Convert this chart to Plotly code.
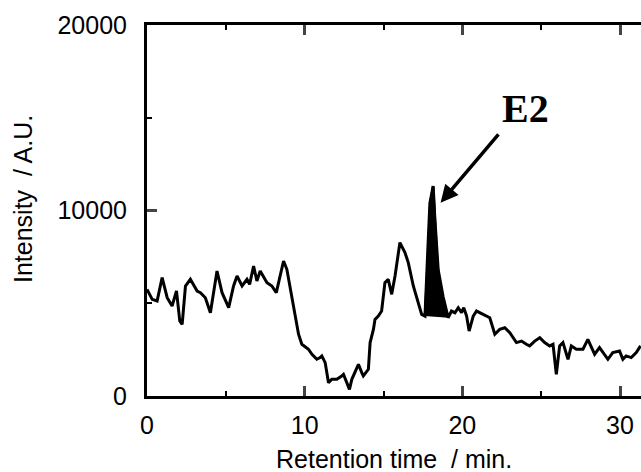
import plotly.graph_objects as go

# Retention time (min) and intensity (A.U.)
time_min = [0.0, 0.33, 0.64, 0.96, 1.28, 1.59, 1.87, 2.08, 2.23, 2.44, 2.75, 3.18, 3.39, 3.70,
            4.02, 4.44, 4.76, 5.18, 5.49, 5.71, 6.03, 6.34, 6.51, 6.76, 6.97, 7.18, 7.61, 7.92,
            8.20, 8.66, 8.87, 9.19, 9.40, 9.61, 9.82, 10.24, 10.46, 10.77, 10.98, 11.09, 11.30,
            11.51, 11.72, 12.04, 12.35, 12.46, 12.67, 12.84, 12.99, 13.20, 13.41, 13.62, 13.72,
            14.04, 14.15, 14.36, 14.46, 14.67, 14.88, 15.09, 15.30, 15.52, 15.73, 16.04, 16.36,
            16.57, 16.89, 17.20, 17.42, 17.63, 17.67, 17.80, 17.94, 18.15, 18.26, 18.47, 18.78,
            19.00, 19.10, 19.31, 19.53, 19.74, 19.95, 20.09, 20.27, 20.43, 20.69, 20.90, 21.32,
            21.74, 22.06, 22.37, 22.69, 23.01, 23.43, 23.75, 24.06, 24.27, 24.59, 24.91, 25.22,
            25.54, 25.75, 25.96, 26.17, 26.38, 26.70, 26.91, 27.23, 27.65, 27.96, 28.17, 28.39,
            28.70, 29.02, 29.23, 29.54, 29.97, 30.18, 30.39, 30.71, 31.03, 31.30]
intensity = [5750, 5210, 5120, 6380, 5300, 4850, 5660, 4040, 3860, 5930, 6290, 5660, 5570, 5300,
             4490, 6740, 5570, 4760, 5930, 6470, 5930, 6290, 6020, 7010, 6200, 6740, 6110, 5930,
             5570, 7280, 6830, 5390, 4490, 3330, 2790, 2520, 2250, 1980, 2070, 2160, 1800,
             720, 900, 900, 1080, 1170, 720, 360, 900, 1260, 1710, 1260, 1080,
             1440, 2880, 3590, 4130, 4310, 4580, 6110, 6290, 5480, 6470, 8270, 7730,
             7190, 5930, 5030, 4400, 4310, 5350, 7690, 10390, 11320, 9490, 6790, 5350,
             4540, 4220, 4580, 4490, 4760, 4490, 4760, 4310, 3500, 4310, 4580, 4400,
             4220, 3330, 3590, 3680, 3410, 2880, 2960, 2790, 2700, 2960, 3140, 2880,
             2700, 2790, 1170, 2700, 2880, 1980, 2700, 2520, 2520, 3050, 2610, 2250,
             2610, 2250, 1980, 2340, 2430, 1980, 2160, 2070, 2340, 2700]

# E2 peak (filled between the peak and its baseline)
peak_time = [17.60, 17.67, 17.80, 17.94, 18.10, 18.18, 18.28, 18.47, 18.78, 19.00, 19.10]
peak_intensity = [4310, 5350, 7690, 10390, 11250, 11250, 9490, 6790, 5350, 4540, 4220]

x_ticks = [0, 10, 20, 30]
x_tick_labels = ["0", "10", "20", "30"]
y_ticks = [0, 10000, 20000]
y_tick_labels = ["0", "10000", "20000"]

FONT = "Liberation Sans, Arial, Helvetica, sans-serif"

fig = go.Figure()
fig.add_trace(go.Scatter(x=peak_time, y=peak_intensity, mode="lines", fill="toself",
                         fillcolor="black", line=dict(color="black", width=1.5),
                         hoverinfo="skip", showlegend=False))
fig.add_trace(go.Scatter(x=time_min, y=intensity, mode="lines",
                         line=dict(color="black", width=3), showlegend=False))

fig.add_annotation(x=18.62, y=10420, ax=22.37, ay=14180, xref="x", yref="y", axref="x", ayref="y",
                   text="", showarrow=True, arrowhead=2, arrowsize=1.0, arrowwidth=3.5,
                   arrowcolor="black")
fig.add_annotation(x=24.0, y=15500, xref="x", yref="y", text="<b>E2</b>", showarrow=False,
                   font=dict(family="Liberation Serif, Times New Roman, serif", size=40,
                             color="black"))

fig.add_annotation(x=0.5, y=0, xref="paper", yref="paper", yshift=-63, text="Retention time  / min.",
                   showarrow=False, xanchor="center", yanchor="middle",
                   font=dict(family=FONT, size=25, color="black"))
fig.add_annotation(x=0, y=0.531, xref="paper", yref="paper", xshift=-124, text="Intensity  / A.U.",
                   textangle=-90, showarrow=False, xanchor="center", yanchor="middle",
                   font=dict(family=FONT, size=25, color="black"))

fig.update_xaxes(range=[0, 31.33], tickvals=x_ticks, ticktext=x_tick_labels, ticks="inside",
                 ticklen=10, tickwidth=2.5,
                 showline=True, linewidth=3, linecolor="black", mirror="ticks", showgrid=False,
                 zeroline=False, tickfont=dict(family=FONT, size=25, color="black"),
                 ticklabelstandoff=5,
                 minor=dict(dtick=5, ticks="inside", ticklen=5, tickwidth=2, tickcolor="black",
                            showgrid=False))
fig.update_yaxes(range=[0, 20000], tickvals=y_ticks, ticktext=y_tick_labels, ticks="inside",
                 ticklen=10, tickwidth=2.5,
                 showline=True, linewidth=3, linecolor="black", mirror=False, showgrid=False,
                 zeroline=False, tickfont=dict(family=FONT, size=25, color="black"),
                 ticklabelstandoff=12,
                 minor=dict(dtick=5000, ticks="inside", ticklen=5, tickwidth=2, tickcolor="black",
                            showgrid=False))

fig.update_layout(width=641, height=472, margin=dict(l=147, r=0, t=25, b=76, autoexpand=False),
                  paper_bgcolor="white", plot_bgcolor="white", showlegend=False)

fig.write_html("out.html", config={"displayModeBar": False},
               post_script="document.body.style.margin='0';")
